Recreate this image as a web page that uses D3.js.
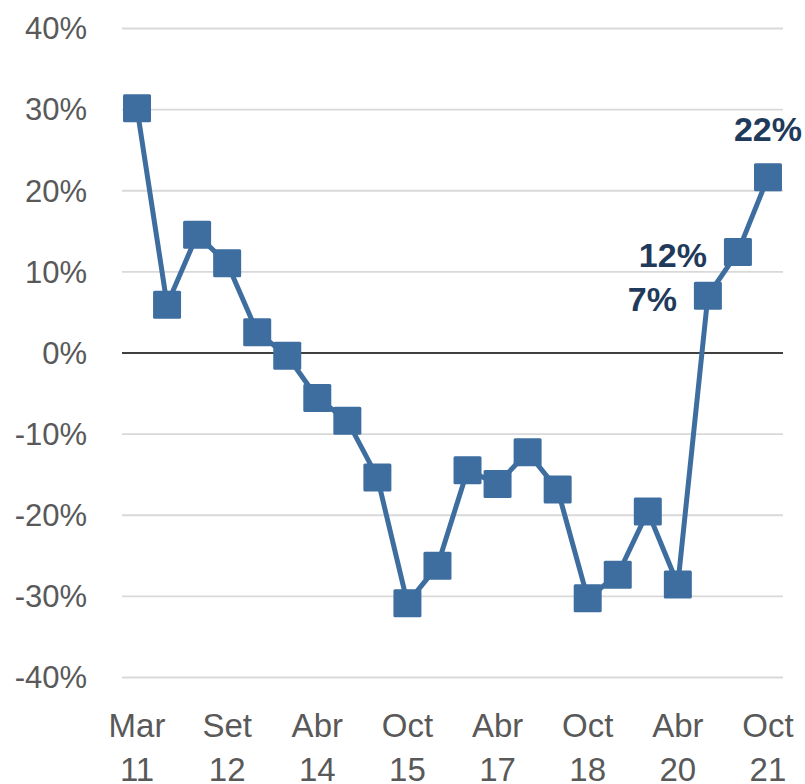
<!DOCTYPE html>
<html>
<head>
  <meta charset="UTF-8">
  <title>Variación</title>
  <script src="https://cdnjs.cloudflare.com/ajax/libs/d3/7.8.5/d3.min.js"></script>
  <style type="text/css">
    body { margin: 0; background: #fff; }
    svg text { font-family: "Liberation Sans", Arial, sans-serif; }
  </style>
</head>
<body>
<script type="text/javascript">

// periods (one per point), values in %
var periods = ["Mar 11", "Set 11", "Mar 12", "Set 12", "Mar 13", "Oct 13",
               "Abr 14", "Oct 14", "Abr 15", "Oct 15", "Abr 16", "Oct 16",
               "Abr 17", "Oct 17", "Abr 18", "Oct 18", "Abr 19", "Oct 19",
               "Abr 20", "Oct 20", "Abr 21", "Oct 21"];
var values = [30.1, 5.9, 14.5, 11.0, 2.5, -0.4, -5.6, -8.4, -15.4, -30.9, -26.3,
              -14.5, -16.2, -12.3, -16.9, -30.3, -27.4, -19.6, -28.6, 7.0, 12.4, 21.6];

// axis ticks
var tickLabels = ["Mar 11", "Set 12", "Abr 14", "Oct 15", "Abr 17", "Oct 18", "Abr 20", "Oct 21"];
var yTicks = [-40, -30, -20, -10, 0, 10, 20, 30, 40];

// points that carry a value label
var labelled = ["Oct 20", "Abr 21", "Oct 21"];

var W = 805, H = 784;
var plotL = 122, plotR = 783, plotT = 28, plotB = 677;

var data = periods.map(function (p, i) { return {period: p, value: values[i]}; });

var x = d3.scaleBand().domain(periods).range([plotL, plotR]);
var y = d3.scaleLinear().domain([-40, 40]).range([plotB, plotT]);
var cx = function (d) { return x(d.period) + x.bandwidth() / 2; };

var svg = d3.select("body").append("svg")
    .attr("width", W)
    .attr("height", H);

// y axis + gridlines
var yAxis = d3.axisLeft(y)
    .tickValues(yTicks)
    .tickSize(-(plotR - plotL))
    .tickPadding(35)
    .tickFormat(function (d) { return d + "%"; });

var gy = svg.append("g")
    .attr("transform", "translate(" + plotL + ",0)")
    .call(yAxis);
gy.select(".domain").remove();
gy.selectAll(".tick line")
    .attr("stroke", function (d) { return d === 0 ? "#000" : "#d9d9d9"; })
    .attr("stroke-width", function (d) { return d === 0 ? 1.6 : 1.8; });
gy.selectAll(".tick text")
    .attr("fill", "#595959")
    .style("font-size", "31px")
    .attr("dy", "0.35em");

// x axis, two-line labels
var xAxis = d3.axisBottom(x).tickValues(tickLabels).tickSize(0);
var gx = svg.append("g")
    .attr("transform", "translate(0," + plotB + ")")
    .call(xAxis);
gx.select(".domain").remove();
gx.selectAll(".tick text").each(function (d) {
  var parts = d.split(" ");
  var t = d3.select(this).text(null).attr("dy", null).attr("y", null)
      .attr("fill", "#595959")
      .style("font-size", "33px");
  t.append("tspan").attr("x", 0).attr("y", 60).text(parts[0]);
  t.append("tspan").attr("x", 0).attr("y", 104).text(parts[1]);
});

// series line
var line = d3.line()
    .x(cx)
    .y(function (d) { return y(d.value); });

svg.append("path")
    .attr("d", line(data))
    .attr("fill", "none")
    .attr("stroke", "#3e6e9f")
    .attr("stroke-width", 5)
    .attr("stroke-linejoin", "round");

// square markers
var ms = 28;
svg.selectAll("rect.mk")
    .data(data)
  .enter().append("rect")
    .attr("class", "mk")
    .attr("x", function (d) { return cx(d) - ms / 2; })
    .attr("y", function (d) { return y(d.value) - ms / 2; })
    .attr("width", ms)
    .attr("height", ms)
    .attr("rx", 1.5)
    .attr("fill", "#3e6e9f");

// value labels (last one above, others to the left)
var lab = data.filter(function (d) { return labelled.indexOf(d.period) >= 0; });
svg.selectAll("text.lbl")
    .data(lab)
  .enter().append("text")
    .attr("class", "lbl")
    .attr("x", function (d, i) { return i === lab.length - 1 ? cx(d) : cx(d) - 31; })
    .attr("y", function (d, i) { return i === lab.length - 1 ? y(d.value) - 36 : y(d.value) + 15; })
    .attr("text-anchor", function (d, i) { return i === lab.length - 1 ? "middle" : "end"; })
    .attr("fill", "#1f3a5a")
    .style("font-size", "34px")
    .style("font-weight", "bold")
    .text(function (d) { return Math.round(d.value) + "%"; });

</script>
</body>
</html>
